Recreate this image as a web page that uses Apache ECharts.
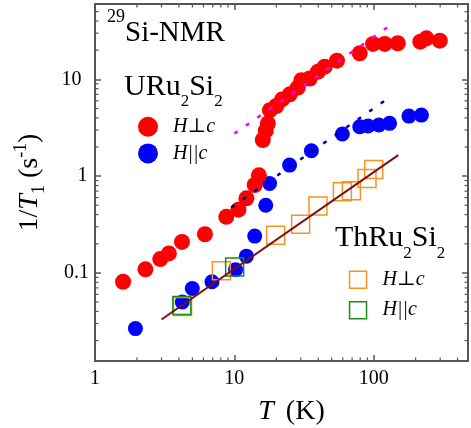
<!DOCTYPE html>
<html><head><meta charset="utf-8">
<script src="https://cdn.jsdelivr.net/npm/echarts@6/dist/echarts.min.js"></script>
<style>html,body{margin:0;padding:0;background:#fff}#c{width:471px;height:428px}</style>
</head><body><div id="c"></div>
<script>
// URu2Si2, H perpendicular c
const uPerpT = [1.59, 2.30, 2.94, 3.39, 4.21, 6.15, 8.76, 10.7, 12.2, 14.0, 15.0, 16.0, 16.8, 17.4, 18.0, 20.0, 22.0, 25.0, 28.5, 30.3, 34.7, 39.8, 44.5, 54.5, 79.4, 98.9, 120, 149, 216, 239, 298];
const uPerpR = [0.081, 0.109, 0.139, 0.159, 0.209, 0.251, 0.38, 0.45, 0.59, 0.81, 1.02, 2.36, 2.95, 3.5, 4.8, 5.3, 6.2, 7.0, 8.2, 9.8, 10.2, 12.0, 13.5, 15.6, 18.6, 23.2, 23.2, 23.6, 24.5, 26.5, 25.1];
// URu2Si2, H parallel c
const uParT = [1.95, 4.23, 4.99, 6.91, 10.2, 12.2, 14.0, 16.8, 17.9, 24.9, 35.7, 59.6, 79.4, 91, 109, 130, 179, 220];
const uParR = [0.0266, 0.050, 0.069, 0.081, 0.108, 0.149, 0.240, 0.50, 0.84, 1.30, 1.83, 2.72, 3.24, 3.29, 3.37, 3.51, 4.17, 4.27];
// ThRu2Si2
const tPerpT = [4.25, 8.07, 19.8, 29.9, 39.8, 59.6, 69.2, 89.5, 100];
const tPerpR = [0.045, 0.105, 0.245, 0.319, 0.49, 0.689, 0.705, 0.946, 1.17];
const tParT = [4.2, 10.05];
const tParR = [0.046, 0.115];
// guide lines (1/T1 proportional to T)
const fitThT = [3, 150], fitThR = [0.033, 1.65];
const fitPerpT = [10, 130], fitPerpR = [2.75, 35.7];
const fitParT = [9.5, 130], fitParR = [0.475, 6.5];
// axes
const xMin = 1, xMax = 475, yMin = 0.0123, yMax = 60;
const xMinorTicks = [2,3,4,5,6,7,8,9,20,30,40,50,60,70,80,90,200,300,400];
const yMinorTicks = [0.02,0.03,0.04,0.05,0.06,0.07,0.08,0.09,0.2,0.3,0.4,0.5,0.6,0.7,0.8,0.9,2,3,4,5,6,7,8,9,20,30,40,50];
const yTickLabels = {'0.1': 'p0', '1': 'p1', '10': 'p2'};

const zip = (a, b) => a.map((v, i) => [v, b[i]]);
const SERIF = '"Liberation Serif","DejaVu Serif",serif';
const AX = '#555';
const isDecade = v => Math.abs(Math.log10(v) - Math.round(Math.log10(v))) < 1e-6;
const fmt = v => isDecade(v) ? String(parseFloat(v.toPrecision(6))) : '';
const fmtY = v => { const s = fmt(v); return s && yTickLabels[s] ? '{' + yTickLabels[s] + '|' + s + '}' : s; };
const yLab = (pr) => ({fontFamily: SERIF, fontSize: 20, color: '#000', padding: [0, pr, 0, 0]});

const chart = echarts.init(document.getElementById('c'), null, {renderer: 'canvas'});
const baseAxis = {
  type: 'log', logBase: 10,
  axisLine: {show: true, onZero: false, lineStyle: {color: AX, width: 2}},
  axisTick: {show: true, inside: true, length: 6, lineStyle: {color: AX, width: 1.5}},
  splitLine: {show: false}, minorTick: {show: false}
};
const tickRender = (dir) => function (params, api) {
  const cs = params.coordSys;
  const L = 3.5, st = {stroke: AX, lineWidth: 1.2};
  if (dir === 'x') {
    const px = api.coord([api.value(0), 1])[0];
    return {type: 'group', children: [
      {type: 'line', shape: {x1: px, y1: cs.y + cs.height, x2: px, y2: cs.y + cs.height - L}, style: st},
      {type: 'line', shape: {x1: px, y1: cs.y, x2: px, y2: cs.y + L}, style: st}]};
  }
  const py = api.coord([10, api.value(1)])[1];
  return {type: 'group', children: [
    {type: 'line', shape: {x1: cs.x, y1: py, x2: cs.x + L, y2: py}, style: st},
    {type: 'line', shape: {x1: cs.x + cs.width, y1: py, x2: cs.x + cs.width - L, y2: py}, style: st}]};
};

chart.setOption({
  animation: false,
  backgroundColor: '#fff',
  grid: {left: 95, right: 3, top: 4, bottom: 67, outerBoundsMode: 'none', containLabel: false},
  xAxis: [
    Object.assign({}, baseAxis, {
      min: xMin, max: xMax, position: 'bottom',
      axisLabel: {formatter: fmt, fontFamily: SERIF, fontSize: 20, color: '#000', margin: 8},
      name: '{i|T}{n|(K)}', nameLocation: 'middle', nameGap: 37,
      nameTextStyle: {padding: [0, 0, 0, 20], rich: {
        i: {fontFamily: SERIF, fontSize: 28, fontStyle: 'italic', color: '#000', padding: [0, 12, 0, 0]},
        n: {fontFamily: SERIF, fontSize: 28, color: '#000'}}}
    }),
    Object.assign({}, baseAxis, {min: xMin, max: xMax, position: 'top', axisLabel: {show: false}})
  ],
  yAxis: [
    Object.assign({}, baseAxis, {
      min: yMin, max: yMax, position: 'left',
      axisLabel: {formatter: fmtY, fontFamily: SERIF, fontSize: 20, color: '#000', margin: 6,
        rich: {p0: yLab(0), p1: yLab(1.5), p2: yLab(7.5)}},
      name: '{n|1/}{i|T}{sub|1}{n| (s}{sup|-1}{n|)}', nameLocation: 'middle', nameGap: 47, nameRotate: 90,
      nameTextStyle: {rich: {
        n: {fontFamily: SERIF, fontSize: 28, color: '#000', lineHeight: 36},
        i: {fontFamily: SERIF, fontSize: 28, fontStyle: 'italic', color: '#000', lineHeight: 36},
        sub: {fontFamily: SERIF, fontSize: 18, color: '#000', verticalAlign: 'bottom', lineHeight: 18},
        sup: {fontFamily: SERIF, fontSize: 18, color: '#000', verticalAlign: 'top', lineHeight: 18}}}
    }),
    Object.assign({}, baseAxis, {min: yMin, max: yMax, position: 'right', axisLabel: {show: false}})
  ],
  legend: [
    {data: ['URu2Si2 H⊥c', 'URu2Si2 H||c'], orient: 'vertical', left: 138, top: 116.7, padding: 0,
     itemWidth: 20, itemHeight: 20, itemGap: 6.7, icon: 'circle', selectedMode: false,
     formatter: n => n.split(' ')[1],
     textStyle: {fontFamily: SERIF, fontSize: 20, fontStyle: 'italic', color: '#000', padding: [0, 0, 0, 10]}},
    {data: [
      {name: 'ThRu2Si2 H⊥c', icon: 'rect', itemStyle: {color: 'transparent', borderColor: '#f7931e', borderWidth: 1.5}},
      {name: 'ThRu2Si2 H||c', icon: 'rect', itemStyle: {color: 'transparent', borderColor: '#1a8c1a', borderWidth: 1.5}}],
     orient: 'vertical', left: 348.8, top: 269.8, padding: 0,
     itemWidth: 17, itemHeight: 17, itemGap: 10.4, selectedMode: false,
     formatter: n => n.split(' ')[1],
     textStyle: {fontFamily: SERIF, fontSize: 20, fontStyle: 'italic', color: '#000', padding: [0, 0, 0, 11]}}
  ],
  graphic: [
    {type: 'text', left: 107, top: 8, style: {
      text: '{sup|29}{a|Si-NMR}', rich: {
        a: {fontFamily: SERIF, fontSize: 29, fill: '#000', lineHeight: 50},
        sup: {fontFamily: SERIF, fontSize: 18, fill: '#000', lineHeight: 18, verticalAlign: 'top'}}}},
    {type: 'text', left: 124, top: 72.5, style: {
      text: '{a|URu}{s|2}{a|Si}{s|2}', rich: {
        a: {fontFamily: SERIF, fontSize: 30, fill: '#000', lineHeight: 45},
        s: {fontFamily: SERIF, fontSize: 17, fill: '#000', lineHeight: 17, verticalAlign: 'bottom'}}}},
    {type: 'text', left: 335, top: 223.2, style: {
      text: '{a|ThRu}{s|2}{a|Si}{s|2}', rich: {
        a: {fontFamily: SERIF, fontSize: 30, fill: '#000', lineHeight: 47},
        s: {fontFamily: SERIF, fontSize: 17, fill: '#000', lineHeight: 17, verticalAlign: 'bottom'}}}}
  ],
  series: [
    {name: 'URu2Si2 H||c', type: 'scatter', symbol: 'circle', symbolSize: 15, data: zip(uParT, uParR),
     itemStyle: {color: '#0000ff', opacity: 1}, z: 2},
    {name: 'URu2Si2 H⊥c', type: 'scatter', symbol: 'circle', symbolSize: 16, data: zip(uPerpT, uPerpR),
     itemStyle: {color: '#ff0000', opacity: 1}, z: 2},
    {name: 'ThRu2Si2 H⊥c', type: 'scatter', symbol: 'rect', symbolSize: 18, data: zip(tPerpT, tPerpR),
     itemStyle: {color: 'transparent', borderColor: '#f7931e', borderWidth: 1.5, opacity: 1}, z: 3},
    {name: 'ThRu2Si2 H||c', type: 'scatter', symbol: 'rect', symbolSize: 18, data: zip(tParT, tParR),
     itemStyle: {color: 'transparent', borderColor: '#1a8c1a', borderWidth: 1.5, opacity: 1}, z: 3},
    {name: 'fitTh', type: 'line', data: zip(fitThT, fitThR), showSymbol: false, symbol: 'none',
     lineStyle: {color: '#7d0f0f', width: 2}, z: 4, silent: true},
    {name: 'fitPerp', type: 'line', data: zip(fitPerpT, fitPerpR), showSymbol: false, symbol: 'none',
     lineStyle: {color: '#ff00ff', width: 2.5, type: [4, 10]}, z: 4, silent: true},
    {name: 'fitPar', type: 'line', data: zip(fitParT, fitParR), showSymbol: false, symbol: 'none',
     lineStyle: {color: '#00008b', width: 2.5, type: [4, 10]}, z: 4, silent: true},
    {name: 'xMinor', type: 'custom', renderItem: tickRender('x'), data: xMinorTicks.map(v => [v, 1]), silent: true, z: 5},
    {name: 'yMinor', type: 'custom', renderItem: tickRender('y'), data: yMinorTicks.map(v => [10, v]), silent: true, z: 5}
  ]
});
</script></body></html>
